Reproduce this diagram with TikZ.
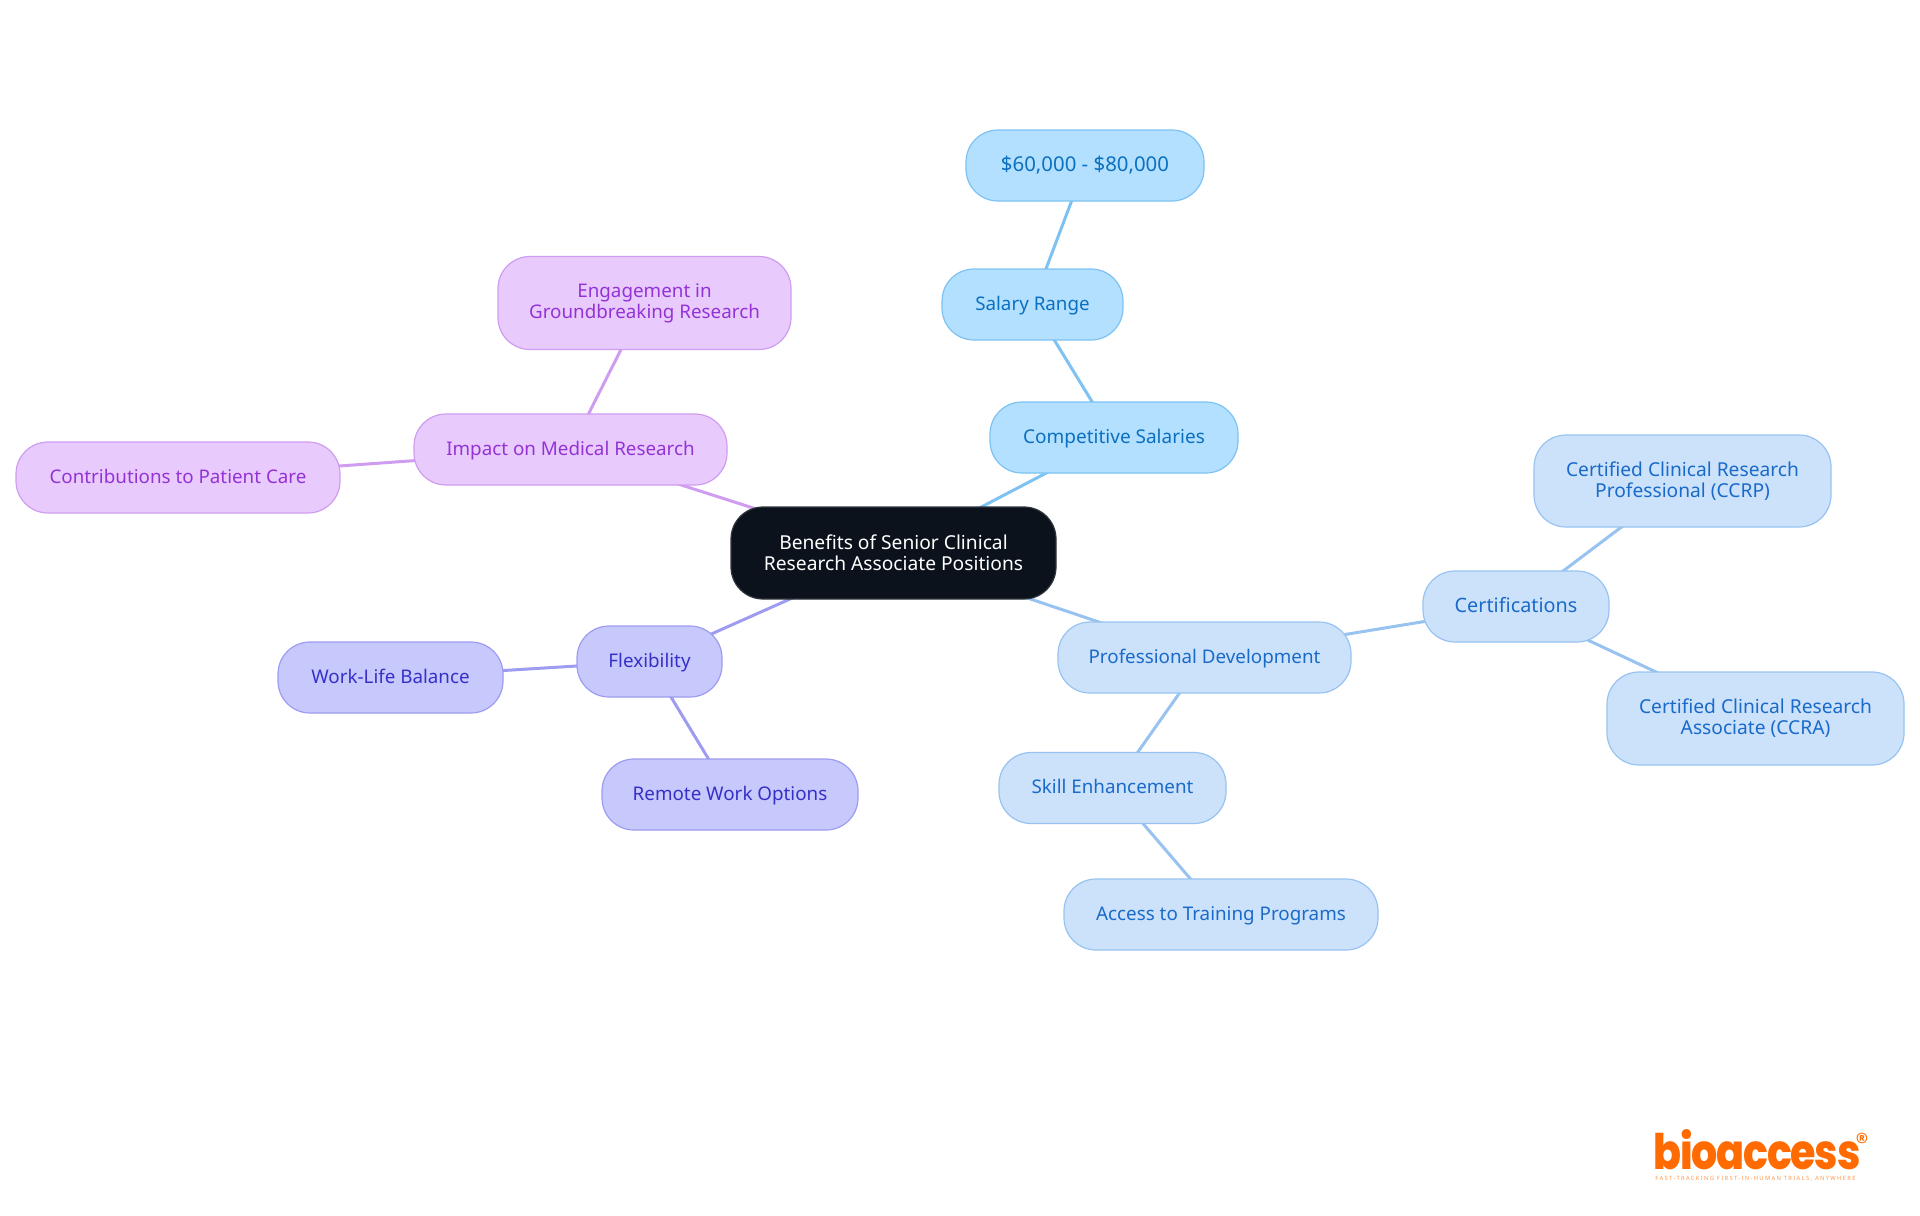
\documentclass[tikz,border=0pt]{standalone}
\usepackage{fontspec}
\setmainfont{Noto Sans}
\newfontfamily\logofont{Poppins ExtraBold}[LetterSpace=-3]
\newfontfamily\regfont{Poppins}
\newfontfamily\tagfont{Noto Sans}[LetterSpace=23]
\usetikzlibrary{backgrounds}
\definecolor{cA}{HTML}{B3E0FF}\definecolor{sA}{HTML}{7DC2F2}\definecolor{tA}{HTML}{0C70C0}
\definecolor{cB}{HTML}{CCE2FB}\definecolor{sB}{HTML}{98C3F1}\definecolor{tB}{HTML}{1A6AC9}
\definecolor{cC}{HTML}{C7C8FC}\definecolor{sC}{HTML}{9D9CF0}\definecolor{tC}{HTML}{3730C8}
\definecolor{cD}{HTML}{E8CAFD}\definecolor{sD}{HTML}{CF9DF0}\definecolor{tD}{HTML}{9333D5}
\definecolor{rootc}{HTML}{0B121B}\definecolor{logoc}{HTML}{FF6B00}
\tikzset{
 x=0.5pt,y=-0.5pt,
 box/.style={rounded corners=16pt,line width=0.6pt,inner sep=0pt,align=center,
   font=\fontsize{9.4}{10.5}\selectfont},
 one/.style={text height=7.2pt,text depth=1.7pt},
 sz/.style n args={2}{minimum width=#1*0.5pt,minimum height=#2*0.5pt},
 fa/.style={box,fill=cA,draw=sA,text=tA},
 fb/.style={box,fill=cB,draw=sB,text=tB},
 fc/.style={box,fill=cC,draw=sC,text=tC},
 fd/.style={box,fill=cD,draw=sD,text=tD},
 la/.style={line width=1.5pt,draw=sA},
 lb/.style={line width=1.5pt,draw=sB},
 lc/.style={line width=1.5pt,draw=sC},
 ld/.style={line width=1.5pt,draw=sD},
}
\begin{document}
\begin{tikzpicture}
\useasboundingbox (0,0) rectangle (1920,1215);
\node[box,fill=rootc,draw=rootc!85!white,text=white,sz={325}{92},font=\fontsize{9.6}{10.5}\selectfont] (root) at (893.5,553) {Benefits of Senior Clinical\\Research Associate Positions};
\node[fa,one,sz={248}{71},font=\fontsize{9.5}{10.5}\selectfont] (comp) at (1114,437.5) {Competitive Salaries};
\node[fa,one,sz={181}{71}] (sal) at (1032.5,304.5) {Salary Range};
\node[fa,one,text height=7.5pt,sz={238}{71},font=\fontsize{10.2}{10.5}\selectfont] (usd) at (1085,165.5) {\$60,000 - \$80,000};
\node[fd,one,sz={313}{71}] (imp) at (570.5,449.5) {Impact on Medical Research};
\node[fd,sz={293}{93}] (eng) at (644.5,303) {Engagement in\\Groundbreaking Research};
\node[fd,one,sz={324}{71}] (con) at (178,477.5) {Contributions to Patient Care};
\node[fc,one,sz={145}{71}] (fle) at (649.5,661.5) {Flexibility};
\node[fc,one,sz={225}{71}] (wor) at (390.5,677.5) {Work-Life Balance};
\node[fc,one,sz={256}{71}] (rem) at (730,794.5) {Remote Work Options};
\node[fb,one,sz={293}{71}] (pro) at (1204.5,657.5) {Professional Development};
\node[fb,one,sz={227}{71}] (ski) at (1112.5,788) {Skill Enhancement};
\node[fb,one,sz={314}{71}] (acc) at (1221,914.5) {Access to Training Programs};
\node[fb,one,sz={186}{71},font=\fontsize{9.9}{10.5}\selectfont] (cer) at (1516,606.5) {Certifications};
\node[fb,sz={297}{92},font=\fontsize{9.6}{10.5}\selectfont] (ccrp) at (1682.5,481) {Certified Clinical Research\\Professional (CCRP)};
\node[fb,sz={297}{93},font=\fontsize{9.6}{10.5}\selectfont] (ccra) at (1755.5,718.5) {Certified Clinical Research\\Associate (CCRA)};
\begin{pgfonlayer}{background}
\draw[la] (root.center) -- (comp.center);
\draw[la] (comp.center) -- (sal.center);
\draw[la] (sal.center) -- (usd.center);
\draw[ld] (root.center) -- (imp.center);
\draw[ld] (imp.center) -- (eng.center);
\draw[ld] (imp.center) -- (con.center);
\draw[lc] (root.center) -- (fle.center);
\draw[lc] (fle.center) -- (wor.center);
\draw[lc] (fle.center) -- (rem.center);
\draw[lb] (root.center) -- (pro.center);
\draw[lb] (pro.center) -- (ski.center);
\draw[lb] (ski.center) -- (acc.center);
\draw[lb] (pro.center) -- (cer.center);
\draw[lb] (cer.center) -- (ccrp.center);
\draw[lb] (cer.center) -- (ccra.center);
\end{pgfonlayer}
\node[anchor=base west,inner sep=0pt,text=logoc,xscale=0.84,font=\logofont\fontsize{24.5}{27}\selectfont] (logo) at (1653,1169) {bioaccess};
\node[anchor=center,inner sep=0pt,text=logoc,font=\regfont\fontsize{13}{13}\selectfont] (reg) at (1862,1142) {®};
\node[anchor=base west,inner sep=0pt,text=logoc!70!white,font=\tagfont\fontsize{2.9}{3}\selectfont] (tag) at (1655,1180) {FAST-TRACKING FIRST-IN-HUMAN TRIALS, ANYWHERE};
\end{tikzpicture}
\end{document}
